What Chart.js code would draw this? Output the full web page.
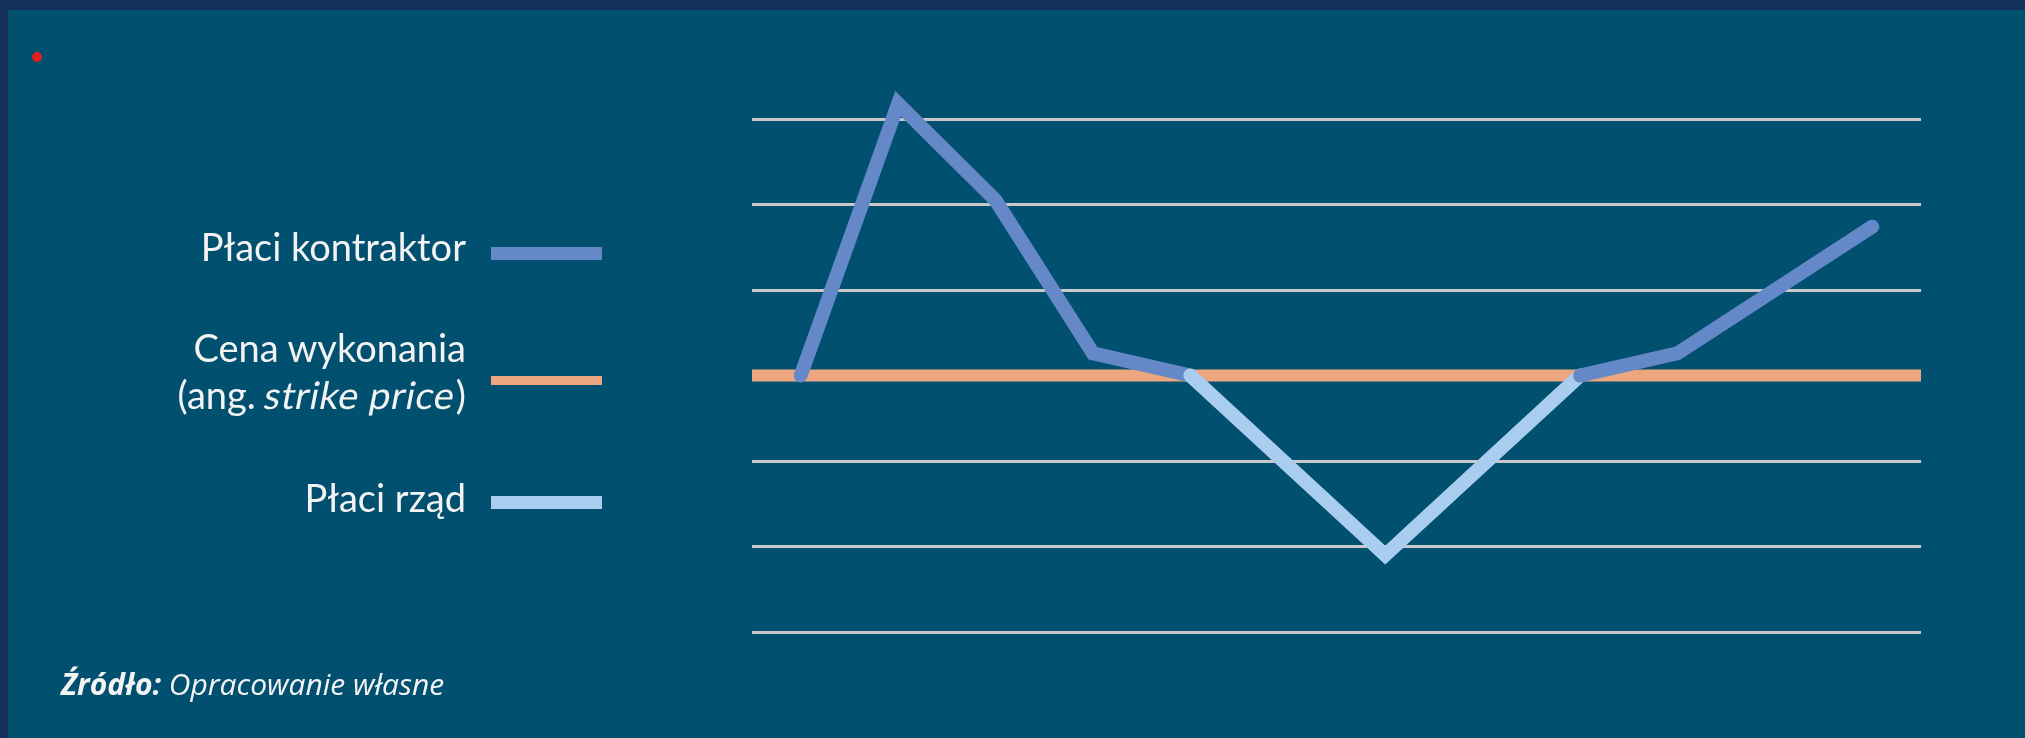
<!DOCTYPE html>
<html lang="pl">
<head>
<meta charset="utf-8">
<script src="https://cdn.jsdelivr.net/npm/chart.js@4.4.1/dist/chart.umd.min.js"></script>
<style>
  html, body { margin: 0; padding: 0; }
  body { width: 2025px; height: 738px; background: #13315a; position: relative; overflow: hidden; }
  #panel { position: absolute; left: 8px; top: 10px; right: 0; bottom: 0; background: #02506f; }
  #chartBox { position: absolute; left: 0; top: 0; width: 2025px; height: 738px; }
  .txt { position: absolute; color: #f3f3f3; white-space: nowrap; line-height: 1; }
  .legend { font-family: Lato, sans-serif; font-size: 38px; right: 1559px; text-align: right; }
  .slant { display: inline-block; transform: skewX(-11deg); letter-spacing: 0.6px; }
  .swatch { position: absolute; left: 491px; width: 111px; }
  #dot { position: absolute; left: 32px; top: 52px; width: 10px; height: 10px; border-radius: 50%; background: #e3201f; }
  #source { font-family: "Open Sans", sans-serif; font-size: 30px; font-style: italic; left: 61px; top: 669px; }
</style>
</head>
<body>
<div id="panel"></div>
<div id="dot"></div>
<div id="chartBox"><canvas id="chart"></canvas></div>

<div class="txt legend" style="top: 227px">Płaci kontraktor</div>
<div class="swatch" style="top: 247px; height: 13px; background: #6588c8"></div>
<div class="txt legend" style="top: 328px">Cena wykonania</div>
<div class="txt legend" style="top: 375px">(ang. <span class="slant">strike price</span>)</div>
<div class="swatch" style="top: 376px; height: 9px; background: #eda77e"></div>
<div class="txt legend" style="top: 478px">Płaci rząd</div>
<div class="swatch" style="top: 496px; height: 13px; background: #a9cdef"></div>

<div class="txt" id="source"><b>Źródło:</b> Opracowanie własne</div>

<script>
// wartości (oś pozioma to kolejne okresy 0..11)
const periods = [0, 1, 2, 3, 4, 6, 8, 9, 11]
const priceValues = [3, 6.18, 5.05, 3.26, 3, 0.9, 3, 3.26, 4.74]
const strikePrice = 3
const yMin = 0
const yMax = 6
const xMin = -0.5
const xMax = 11.5

const contractorColor = '#6588c8'
const governmentColor = '#a9cdef'
const strikeColor = '#eda77e'
const gridColor = '#c9c9c9'

const priceData = periods.map((x, i) => ({ x, y: priceValues[i] }))
const strikeData = [{ x: xMin, y: strikePrice }, { x: xMax, y: strikePrice }]

const segment = {
  borderColor: ctx => {
    return ctx.p0.parsed.y >= strikePrice && ctx.p1.parsed.y >= strikePrice ? contractorColor : governmentColor
  }
}

new Chart(document.getElementById('chart'), {
  type: 'line',
  data: {
    datasets: [
      {
        label: 'Cena',
        data: priceData,
        borderColor: contractorColor,
        borderWidth: 14,
        borderCapStyle: 'round',
        borderJoinStyle: 'miter',
        pointRadius: 0,
        tension: 0,
        clip: false,
        segment,
        order: 1
      },
      {
        label: 'Cena wykonania',
        data: strikeData,
        borderColor: strikeColor,
        borderWidth: 12,
        borderCapStyle: 'butt',
        pointRadius: 0,
        clip: false,
        order: 2
      }
    ]
  },
  options: {
    responsive: true,
    maintainAspectRatio: false,
    animation: false,
    events: [],
    layout: {
      padding: { left: 752, right: 104, top: 119, bottom: 106 }
    },
    scales: {
      x: {
        type: 'linear',
        min: xMin,
        max: xMax,
        display: false
      },
      y: {
        type: 'linear',
        min: yMin,
        max: yMax,
        display: true,
        ticks: { display: false, stepSize: 1 },
        border: { display: false },
        grid: {
          drawTicks: false,
          color: gridColor,
          lineWidth: 3
        }
      }
    },
    plugins: {
      legend: { display: false },
      tooltip: { enabled: false }
    }
  }
})
</script>
</body>
</html>
